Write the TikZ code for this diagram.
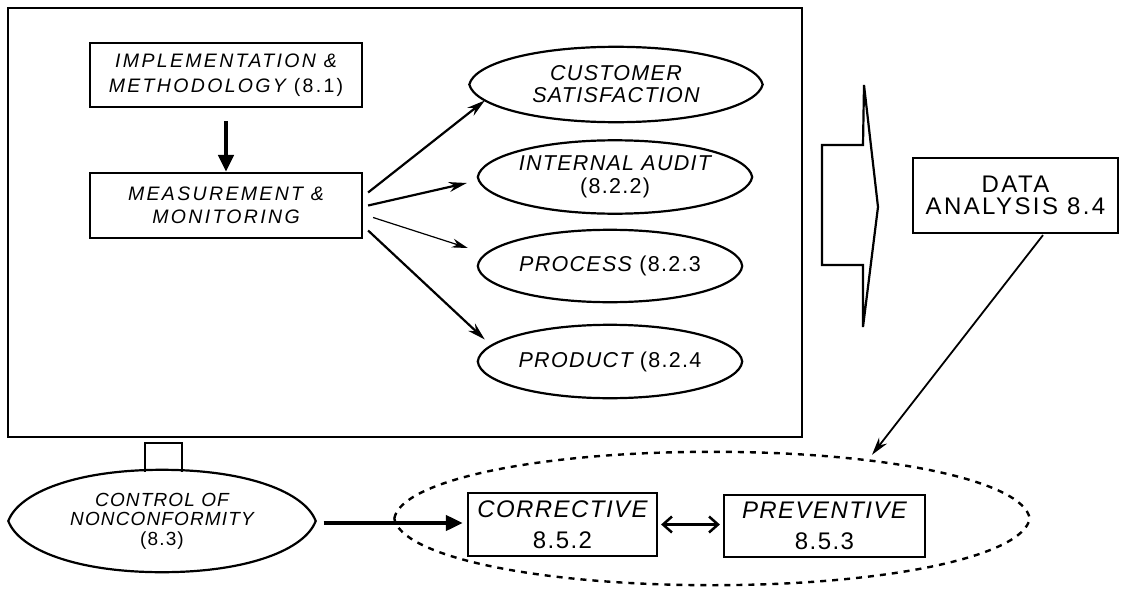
\documentclass[tikz,border=0pt]{standalone}
\usepackage{fontspec}
\setmainfont{Liberation Sans}
\usetikzlibrary{arrows.meta,calc,shapes.geometric}
\newcommand{\fsz}[2]{\fontsize{#1}{#2}\selectfont}
\newcommand{\lsp}[1]{\addfontfeatures{LetterSpace=#1}}
% lens-like oval drawn round a named node: #1 style, #2 node, #3 half width, #4 half height, #5 pointiness
\newcommand{\lensdraw}[5][]{%
  \draw[#1] (#2.west) .. controls +({#5*#3},{-0.56*#4}) and +({-0.56*#3},0) .. (#2.north)
    .. controls +({0.56*#3},0) and +({-#5*#3},{-0.56*#4}) .. (#2.east)
    .. controls +({-#5*#3},{0.56*#4}) and +({0.56*#3},0) .. (#2.south)
    .. controls +({-0.56*#3},0) and +({#5*#3},{0.56*#4}) .. cycle;}
\begin{document}
\begin{tikzpicture}[x=1pt,y=-1pt,
  box/.style={draw, line width=2.2pt, rectangle, inner sep=0pt, align=center},
  oval/.style={ellipse, inner sep=0pt, align=center},
  outline/.style={line width=2.2pt},
  boxfont/.style={font=\fsz{19.5}{25}\lsp{12}},
  ovalfont/.style={font=\fsz{21.5}{22}\lsp{6}},
  arr/.style={-{Stealth[length=18pt,width=10pt]}, line width=2.2pt},
  thinarr/.style={-{Stealth[length=16pt,width=9pt]}, line width=1.2pt},
  heavyarr/.style={-{Triangle[length=17pt,width=15pt]}, line width=4.5pt},
  dbl/.style={{Straight Barb[length=9pt,width=16pt]}-{Straight Barb[length=9pt,width=16pt]}, line width=2.5pt}
]
\useasboundingbox (0,0) rectangle (1125,589);
\fill[white] (0,0) rectangle (1125,589);

% big frame
\node[draw, line width=2.2pt, rectangle, inner sep=0pt, minimum width=794pt, minimum height=429pt] (frame) at (405,222.5) {};

\node[box, boxfont, minimum width=272pt, minimum height=64pt] (impl) at (226,75)
  {\itshape IMPLEMENTATION \&\\\itshape METHODOLOGY\upshape{} (8.1)};
\node[box, font=\fsz{19.5}{23}\lsp{12}, minimum width=272pt, minimum height=65pt] (meas) at (226,205.5)
  {\itshape MEASUREMENT \&\\\itshape MONITORING};

\node[oval, ovalfont, minimum width=293pt, minimum height=75pt] (cust) at (616,84.5)
  {\itshape CUSTOMER\\\itshape SATISFACTION};
\node[oval, font=\fsz{21.5}{23}\lsp{6}, minimum width=274pt, minimum height=73pt] (audit) at (615,177)
  {\itshape INTERNAL AUDIT\\(8.2.2)};
\node[oval, ovalfont, minimum width=264pt, minimum height=72pt] (proc) at (610,266)
  {\itshape PROCESS\upshape{} (8.2.3};
\node[oval, ovalfont, minimum width=264pt, minimum height=73pt] (prod) at (610,361.5)
  {\itshape PRODUCT\upshape{} (8.2.4};
\lensdraw[outline]{cust}{146.5}{37.5}{0.035}
\lensdraw[outline]{audit}{137}{36.5}{0.025}
\lensdraw[outline]{proc}{132}{36}{0.015}
\lensdraw[outline]{prod}{132}{36.5}{0.015}

\node[box, font=\fsz{24}{22}\lsp{10}, minimum width=205pt, minimum height=75pt] (data) at (1015.5,195.5)
  {DATA\\ANALYSIS 8.4};

\node[oval, font=\fsz{19}{19.5}\lsp{6}, minimum width=307pt, minimum height=102pt] (ctrl) at (162,521)
  {\itshape CONTROL OF\\\itshape NONCONFORMITY\\(8.3)};
\lensdraw[outline]{ctrl}{153.5}{51}{0.07}

\node[oval, minimum width=635pt, minimum height=133pt] (cyc) at (712,518.5) {};
\lensdraw[line width=2.4pt, dash pattern=on 6pt off 6pt]{cyc}{317.5}{66.5}{0.02}

\node[box, font=\fsz{24}{31}\lsp{6}, minimum width=189pt, minimum height=63pt] (corr) at (562.5,524.5)
  {\itshape CORRECTIVE\\8.5.2};
\node[box, font=\fsz{24}{31}\lsp{6}, minimum width=201pt, minimum height=62pt] (prev) at (824.5,526)
  {\itshape PREVENTIVE\\8.5.3};

% block arrow
\draw[line width=2.2pt, line join=miter] (822,145) -- (863,145) -- (864,85) -- (878,207) -- (863,327) -- (863,265) -- (822,265) -- cycle;

% connectors
\draw[heavyarr] (impl.south) ++(0,13) -- (meas.north);
\draw[arr] ($(meas.east)+(5,-13)$) -- ($(cust.west)+(15.5,16)$);
\draw[arr] ($(meas.east)+(5,0)$) -- ($(audit.west)+(-11,6)$);
\draw[thinarr] ($(meas.east)+(10,12)$) -- ($(proc.west)+(-10,-18)$);
\draw[arr] ($(meas.east)+(5,25)$) -- ($(prod.west)+(7,-22)$);
\draw[arr, line width=1.8pt] ($(data.south)+(27.5,1)$) -- ($(cyc.north)+(160,3)$);
\draw[heavyarr, line width=4pt] ($(ctrl.east)+(8,2)$) -- ($(corr.west)+(-4,-1.5)$);
\draw[dbl] ($(corr.east)+(3,0)$) -- ($(prev.west)+(-3,-1.5)$);
\draw[line width=2.2pt] ($(ctrl.north)+(-17,2)$) -- ++(0,-29) -- ++(37,0) -- ++(0,29);
\end{tikzpicture}
\end{document}
